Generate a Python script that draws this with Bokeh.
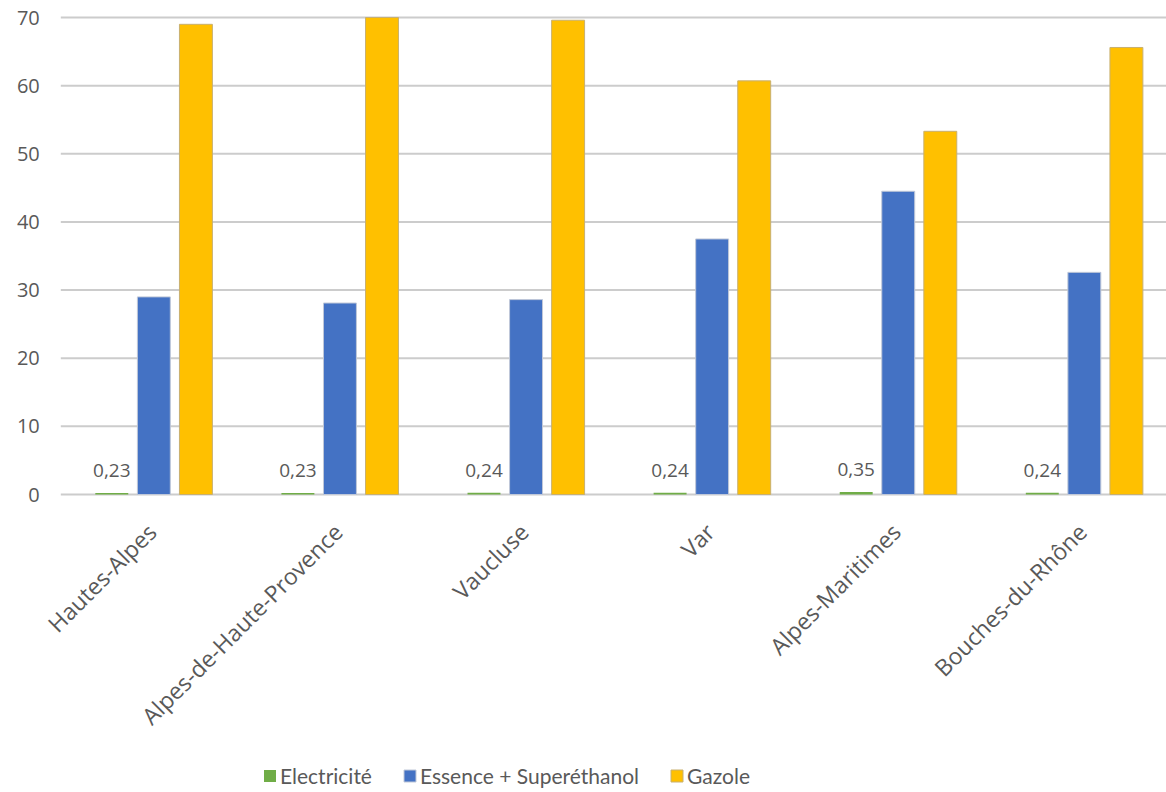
from bokeh.plotting import figure
from bokeh.models import ColumnDataSource, Range1d, Legend, LegendItem, LabelSet
from bokeh.core.properties import value
from bokeh.transform import dodge
from bokeh.embed import file_html
from bokeh.resources import INLINE
from math import pi

categories = ["Hautes-Alpes", "Alpes-de-Haute-Provence", "Vaucluse", "Var",
              "Alpes-Maritimes", "Bouches-du-Rhône"]
electricite = [0.23, 0.23, 0.24, 0.24, 0.35, 0.24]
essence = [29.0, 28.1, 28.6, 37.5, 44.5, 32.6]
gazole = [69.0, 70.0, 69.6, 60.7, 53.3, 65.6]
y_ticks = [0, 10, 20, 30, 40, 50, 60, 70]

colors = {"Electricité": "#70AD47", "Essence + Superéthanol": "#4472C4", "Gazole": "#FFC000"}

n = len(categories)
src = ColumnDataSource(dict(
    x=list(range(n)),
    cat=categories,
    zero=[0] * n,
    elec=electricite,
    ess=essence,
    gaz=gazole,
    elec_lbl=[f"{v:.2f}".replace(".", ",") for v in electricite],
))
tick_src = ColumnDataSource(dict(
    y=y_ticks,
    lbl=[str(t) for t in y_ticks],
    x0=[-0.5] * len(y_ticks),
    x1=[n] * len(y_ticks),
))

# The whole canvas is the plot frame; the value area spans x in [-0.5, ...],
# y in [0, 70]; category labels, tick labels and legend are drawn around it.
W, H = 1166, 792
left_px, top_px, zero_px = 60.3, 17, 494
px_y = (zero_px - top_px) / 70
px_x = 186.1
x_start = -0.5 - left_px / px_x
x_end = -0.5 + (W - left_px) / px_x
y_end = 70 + top_px / px_y
y_start = -(H - zero_px) / px_y

p = figure(frame_width=W, frame_height=H, output_backend="svg", toolbar_location=None,
           x_range=Range1d(x_start, x_end), y_range=Range1d(y_start, y_end),
           x_axis_location=None, y_axis_location=None,
           min_border_left=0, min_border_right=0, min_border_top=0, min_border_bottom=0)
p.outline_line_color = None
p.background_fill_color = "white"
p.border_fill_color = "white"
p.xgrid.grid_line_color = None
p.ygrid.grid_line_color = None

# gridlines
p.segment(x0="x0", x1="x1", y0="y", y1="y", source=tick_src,
          line_color="#cccccc", line_width=2)

off = 0.226
bw = 0.177
r_e = p.vbar(x=dodge("x", -off), top="elec", width=bw, source=src,
             fill_color=colors["Electricité"], line_color=None)
r_s = p.vbar(x=dodge("x", 0), top="ess", width=bw, source=src,
             fill_color=colors["Essence + Superéthanol"], line_color="#c0c8d8", line_width=1)
r_g = p.vbar(x=dodge("x", off), top="gaz", width=bw, source=src,
             fill_color=colors["Gazole"], line_color="#c8b070", line_width=1)

# data labels for Electricité
p.add_layout(LabelSet(x=dodge("x", -off), y="elec", text="elec_lbl", source=src,
                      y_offset=16, text_align="center", text_baseline="bottom",
                      text_font=value("Open Sans"), text_font_size=value("19px"),
                      text_color=value("#595959")))

# y tick labels
p.add_layout(LabelSet(x="x0", y="y", text="lbl", source=tick_src,
                      x_offset=-21, text_align="right", text_baseline="middle",
                      text_font=value("Open Sans"), text_font_size=value("20px"),
                      text_color=value("#595959")))

# category labels (rotated 45°)
p.add_layout(LabelSet(x="x", y="zero", text="cat", source=src,
                      y_offset=-33, x_offset=-2, angle=pi / 4,
                      text_align="right", text_baseline="middle",
                      text_font=value("Open Sans"), text_font_size=value("23px"),
                      text_color=value("#595959")))

legend = Legend(items=[
    LegendItem(label="Electricité", renderers=[r_e]),
    LegendItem(label="Essence + Superéthanol", renderers=[r_s]),
    LegendItem(label="Gazole", renderers=[r_g]),
], orientation="horizontal", location=(262, 4))
legend.label_text_font = "Lato"
legend.label_text_font_size = "21px"
legend.label_text_color = "#595959"
legend.glyph_width = 15
legend.glyph_height = 15
legend.spacing = 30
legend.label_standoff = 3
legend.border_line_color = None
legend.background_fill_alpha = 0
legend.padding = 0
legend.margin = 0
p.add_layout(legend, "center")

open("out.html", "w").write(file_html(p, INLINE))
